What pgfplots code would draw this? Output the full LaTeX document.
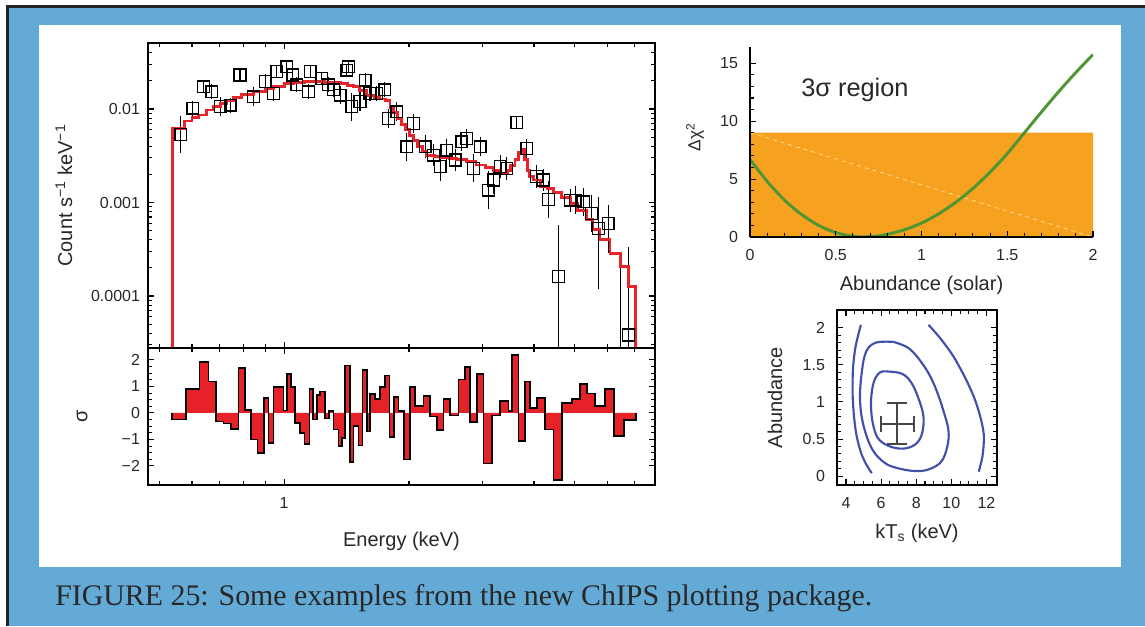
\documentclass[border=0pt]{standalone}
\usepackage{pgfplots}
\usepackage{pgfplotstable}
\pgfplotsset{compat=1.18}
\usepackage{fontspec}
\setmainfont{Liberation Sans}
\newfontfamily\capfont{Liberation Serif}
\definecolor{bgblue}{RGB}{100,170,214}
\definecolor{darkframe}{RGB}{35,35,35}
\definecolor{modelred}{RGB}{232,36,42}
\definecolor{resred}{RGB}{230,34,40}
\definecolor{boxorange}{RGB}{247,161,32}
\definecolor{curvegreen}{RGB}{78,150,52}
\definecolor{contblue}{RGB}{66,80,170}
\definecolor{crossgrey}{RGB}{70,70,70}
\definecolor{dashyellow}{RGB}{255,222,140}
\definecolor{txt}{RGB}{40,40,40}
\newcommand\tickfont{\fontsize{12}{14}\selectfont}
\newcommand\labfont{\fontsize{15}{18}\selectfont}

\pgfplotstableread{
E C ep em
0.564 0.00536 0.00314 0.00198
0.603 0.0102 0.00206 0.00171
0.639 0.0173 0.00256 0.00223
0.670 0.0153 0.00309 0.00257
0.701 0.0106 0.00275 0.00218
0.741 0.0110 0.00222 0.00185
0.783 0.0231 0.00342 0.00298
0.844 0.0135 0.00350 0.00278
0.900 0.0196 0.00396 0.00329
0.943 0.0147 0.00297 0.00247
0.960 0.0251 0.00371 0.00324
1.015 0.0283 0.00419 0.00365
1.050 0.0231 0.00342 0.00298
1.074 0.0181 0.00366 0.00304
1.145 0.0153 0.00309 0.00257
1.155 0.0251 0.00371 0.00324
1.233 0.0213 0.00315 0.00275
1.279 0.0181 0.00366 0.00304
1.315 0.0160 0.00323 0.00269
1.364 0.0141 0.00365 0.00290
1.416 0.0261 0.00386 0.00337
1.430 0.0283 0.00419 0.00365
1.456 0.0106 0.00438 0.00310
1.524 0.0120 0.00311 0.00247
1.567 0.0204 0.00412 0.00343
1.611 0.0147 0.00297 0.00247
1.672 0.0147 0.00297 0.00247
1.750 0.0160 0.00323 0.00269
1.783 0.00795 0.00206 0.00164
1.869 0.00936 0.00242 0.00193
1.976 0.00395 0.00163 0.00115
2.050 0.00703 0.00182 0.00145
2.188 0.00395 0.00126 0.00095
2.290 0.00322 0.00102 0.00078
2.376 0.00242 0.00100 0.00071
2.466 0.00364 0.00116 0.00088
2.582 0.00285 0.00091 0.00069
2.680 0.00447 0.00116 0.00092
2.755 0.00486 0.00126 0.00100
2.858 0.00232 0.00096 0.00068
2.966 0.00395 0.00102 0.00081
3.107 0.00136 0.00080 0.00050
3.193 0.00174 0.00072 0.00051
3.314 0.00242 0.00077 0.00058
3.440 0.00232 0.00074 0.00056
3.637 0.00714 0.00106 0.00092
3.843 0.00379 0.00098 0.00078
4.060 0.00189 0.00060 0.00046
4.217 0.00174 0.00055 0.00042
4.335 0.00108 0.00063 0.00040
4.580 0.000161 0.000414 0.000160
4.890 0.00106 0.00034 0.00026
5.030 0.00106 0.00044 0.00031
5.260 0.00102 0.00042 0.00030
5.510 0.000766 0.00045 0.00028
5.720 0.00053 0.00062 0.00041
6.040 0.000599 0.00034 0.00031
6.450 0.00001 0.000233 0.0000099
6.760 0.0000383 0.00030 0.0000380
}\spectab

\pgfplotstableread{
E C
0.538 0.000001
0.538 0.0062
0.577 0.00744
0.600 0.0081
0.622 0.00863
0.651 0.00976
0.675 0.0106
0.701 0.0115
0.728 0.0124
0.755 0.0132
0.790 0.0142
0.844 0.0155
0.900 0.0166
0.942 0.0175
1.000 0.0186
1.053 0.0191
1.120 0.0195
1.177 0.0196
1.250 0.0194
1.300 0.0191
1.364 0.0188
1.420 0.0180
1.469 0.0173
1.520 0.0158
1.582 0.0140
1.650 0.0132
1.700 0.0128
1.752 0.0124
1.800 0.0105
1.835 0.0092
1.880 0.0079
1.920 0.0068
1.965 0.0060
2.010 0.0052
2.050 0.0046
2.100 0.0040
2.150 0.0035
2.207 0.0032
2.300 0.00312
2.400 0.00303
2.500 0.00298
2.607 0.00290
2.750 0.00272
2.900 0.00252
3.050 0.00235
3.200 0.00218
3.300 0.00205
3.377 0.00205
3.450 0.00220
3.520 0.00250
3.600 0.00290
3.680 0.00340
3.740 0.00370
3.800 0.00290
3.850 0.00220
3.900 0.00190
3.990 0.00174
4.140 0.00150
4.300 0.00140
4.460 0.00128
4.650 0.00113
4.890 0.00098
5.100 0.00082
5.360 0.00066
5.550 0.00052
5.770 0.00040
6.100 0.000286
6.450 0.000206
6.760 0.000126
7.010 0.000001
}\modeltab

\pgfplotstableread{
E R
0.538 0
0.538 -0.25
0.5796 0.91
0.6252 1.91
0.6573 1.19
0.6857 -0.32
0.7142 -0.40
0.7436 -0.60
0.7762 1.70
0.8054 0.10
0.8329 -1.00
0.8624 -1.51
0.8950 0.57
0.9167 -1.13
0.9426 0.98
0.9963 0.09
1.0149 1.47
1.0377 0.97
1.0628 -0.38
1.0927 -0.75
1.1194 -1.16
1.1507 0.91
1.1724 -0.25
1.1987 0.69
1.2210 0.81
1.2554 -0.21
1.2835 0.07
1.3148 -0.63
1.3517 -1.26
1.3770 -0.95
1.4028 1.79
1.4421 -1.86
1.4693 -0.50
1.5106 -1.23
1.5446 1.63
1.5822 -0.70
1.6117 0.72
1.6570 0.52
1.7036 0.98
1.7515 1.41
1.7941 -0.91
1.8413 0.60
1.8860 0.07
1.9464 -1.76
2.0119 0.98
2.0687 0.25
2.1661 0.63
2.2478 -0.13
2.3326 -0.65
2.4204 0.52
2.5119 -0.10
2.6307 1.26
2.7298 1.74
2.8065 -0.35
2.9125 1.48
3.0221 -1.91
3.1652 -0.10
3.3151 0.44
3.4720 0.07
3.5366 2.20
3.6702 -1.07
3.8082 1.19
3.9153 0.19
4.0622 0.57
4.2546 -0.63
4.4565 -2.52
4.6676 0.38
4.9340 0.52
5.1674 1.09
5.3617 0.73
5.6160 0.25
5.9360 0.91
6.2406 -0.86
6.5963 -0.28
7.0389 -0.28
7.0389 0
}\restab

\pgfplotsset{
  every axis/.append style={
    scale only axis,
    /pgf/number format/assume math mode=true,
    tick label style={font=\tickfont, text=txt},
    label style={font=\labfont, text=txt},
    axis line style={line width=1pt, black},
    tick style={line width=0.8pt, black},
    major tick length=4.5pt,
    minor tick length=2.7pt,
    tick align=inside,
    xticklabel style={yshift=-6pt},
    yticklabel style={xshift=-2.5pt},
  },
}

\begin{document}
\begin{tikzpicture}
% background frame
\fill[white] (0,0) rectangle ({1145*0.75pt},{-626*0.75pt});
\fill[darkframe] ({6*0.75pt},{-5*0.75pt}) rectangle ({1145*0.75pt},{-626*0.75pt});
\fill[bgblue] ({8.5*0.75pt},{-8*0.75pt}) rectangle ({1145*0.75pt},{-626*0.75pt});
\fill[white] ({39*0.75pt},{-25*0.75pt}) rectangle ({1121*0.75pt},{-567*0.75pt});
\node[anchor=base west, font=\capfont\fontsize{22.4}{26}\selectfont, text=txt, inner sep=0pt]
  at ({55*0.75pt},{-605*0.75pt}) {FIGURE 25: Some examples from the new ChIPS plotting package.};

% ---------------- spectrum ----------------
\begin{axis}[
  at={({148*0.75pt},{-43*0.75pt})}, anchor=north west,
  width=380.25pt, height=228.75pt,
  xmode=log, ymode=log,
  xmin=0.47, xmax=7.83,
  ymin=2.78e-5, ymax=0.0508,
  xtick={1},
  minor xtick={0.5,0.6,0.7,0.8,0.9,2,3,4,5,6,7},
  xticklabels={},
  ytick={0.0001,0.001,0.01},
  yticklabels={0.0001,0.001,0.01},
  minor ytick={3e-5,4e-5,5e-5,6e-5,7e-5,8e-5,9e-5,2e-4,3e-4,4e-4,5e-4,6e-4,7e-4,8e-4,9e-4,2e-3,3e-3,4e-3,5e-3,6e-3,7e-3,8e-3,9e-3,2e-2,3e-2,4e-2,5e-2},
  ylabel={Count s\textsuperscript{−1} keV\textsuperscript{−1}},
  ylabel style={at={(axis description cs:-0.166,0.5)}, anchor=center},
]
\addplot[black, only marks, mark=square, mark size=4.4pt, mark options={line width=1pt},
  error bars/.cd, y dir=both, y explicit, error mark=none,
  error bar style={line width=0.8pt, black}]
  table[x=E, y=C, y error plus=ep, y error minus=em] {\spectab};
\addplot[const plot mark left, modelred, line width=2.2pt] table[x=E, y=C] {\modeltab};
\end{axis}

% ---------------- residuals ----------------
\begin{axis}[
  at={({148*0.75pt},{-348*0.75pt})}, anchor=north west,
  width=380.25pt, height=102.75pt,
  xmode=log,
  xmin=0.47, xmax=7.83,
  xtick={1},
  minor xtick={0.5,0.6,0.7,0.8,0.9,2,3,4,5,6,7},
  xticklabels={1},
  ymin=-2.72, ymax=2.45,
  ytick={-2,-1,0,1,2},
  yticklabels={−2,−1,0,1,2},
  minor y tick num=3,
  ylabel={σ},
  ylabel style={at={(axis description cs:-0.130,0.5)}, anchor=center},
  xlabel={Energy (keV)},
  xlabel style={at={(axis description cs:0.5,-0.41)}, anchor=center},
]
\addplot[const plot mark left, fill=resred, draw=none] table[x=E, y=R] {\restab} \closedcycle;
\addplot[const plot mark left, black, line width=1.3pt] table[x=E, y=R] {\restab};
\end{axis}

% ---------------- delta chi^2 ----------------
\begin{axis}[
  at={({750*0.75pt},{-47*0.75pt})}, anchor=north west,
  width=257.25pt, height=142.5pt,
  axis x line*=bottom, axis y line*=left,
  axis on top,
  xmin=0, xmax=2, ymin=0, ymax=16.4,
  xtick={0,0.5,1,1.5,2}, xticklabels={0,0.5,1,1.5,2},
  ytick={0,5,10,15},
  minor x tick num=4, minor y tick num=4,
  xlabel={Abundance (solar)},
  xlabel style={at={(axis description cs:0.5,-0.253)}, anchor=center},
  ylabel={Δχ\textsuperscript{2}},
  ylabel style={at={(axis description cs:-0.16,0.526)}, anchor=center, font=\fontsize{13}{15}\selectfont},
  yticklabel style={xshift=-3pt},
]
\addplot[fill=boxorange, draw=none] coordinates {(0,0) (2,0) (2,9) (0,9) (0,0)};
\addplot[dashyellow, dashed, line width=0.6pt] coordinates {(0,9) (2,0)};
\addplot[curvegreen, line width=2.2pt, smooth] coordinates {
 (0,6.7) (0.1,4.8) (0.2,3.2) (0.3,1.95) (0.4,1.0) (0.5,0.38) (0.6,0.05) (0.65,0)
 (0.75,0.1) (0.8,0.23) (0.9,0.62) (1.0,1.2) (1.1,2.0) (1.2,3.0) (1.3,4.2)
 (1.4,5.6) (1.5,7.2) (1.6,9.0) (1.7,10.8) (1.8,12.55) (1.9,14.2) (2.0,15.75)};
\node[font=\fontsize{19}{22}\selectfont, text=txt] at (axis cs:0.612,12.67) {3σ region};
\end{axis}

% ---------------- contours ----------------
\begin{axis}[
  at={({837*0.75pt},{-310*0.75pt})}, anchor=north west,
  width=120pt, height=131.25pt,
  xmin=3.49, xmax=12.6, ymin=-0.12, ymax=2.24,
  xtick={4,6,8,10,12}, ytick={0,0.5,1,1.5,2},
  yticklabels={0,0.5,1,1.5,2},
  minor x tick num=3, minor y tick num=4,
  xlabel={kT\textsubscript{s} (keV)},
  xlabel style={at={(axis description cs:0.5,-0.274)}, anchor=center},
  ylabel={Abundance},
  ylabel style={at={(axis description cs:-0.3875,0.5)}, anchor=center},
  yticklabel style={xshift=-3pt},
]
\addplot[contblue, line width=1.6pt, smooth, tension=0.6] coordinates {
 (6.42,1.41) (7.2,1.38) (7.75,1.25) (8.2,1.0) (8.42,0.78) (8.3,0.55) (7.9,0.42)
 (7.2,0.37) (6.4,0.41) (5.8,0.52) (5.5,0.75) (5.43,1.03) (5.6,1.28) (5.95,1.40) (6.42,1.41)};
\addplot[contblue, line width=1.6pt, smooth, tension=0.6] coordinates {
 (6.7,1.81) (7.6,1.72) (8.4,1.50) (8.99,1.25) (9.55,0.88) (9.85,0.55) (9.5,0.22)
 (8.7,0.09) (7.85,0.07) (6.9,0.11) (6.2,0.18) (5.5,0.36) (5.0,0.68) (4.8,1.03)
 (4.9,1.4) (5.15,1.68) (5.7,1.80) (6.7,1.81)};
\addplot[contblue, line width=1.6pt, smooth] coordinates {
 (4.85,2.04) (4.55,1.75) (4.40,1.45) (4.38,1.1) (4.46,0.80) (4.6,0.55) (4.85,0.32)
 (5.15,0.16) (5.47,0.04)};
\addplot[contblue, line width=1.6pt, smooth] coordinates {
 (8.70,2.04) (9.4,1.85) (10.13,1.61) (10.8,1.32) (11.28,1.07) (11.65,0.80)
 (11.85,0.55) (11.78,0.28) (11.56,0.06)};
\addplot[crossgrey, line width=1.5pt] coordinates {(5.98,0.70) (7.89,0.70)};
\addplot[crossgrey, line width=1.5pt] coordinates {(6.9,0.43) (6.9,0.98)};
\addplot[crossgrey, line width=1.5pt] coordinates {(5.98,0.59) (5.98,0.81)};
\addplot[crossgrey, line width=1.5pt] coordinates {(7.89,0.59) (7.89,0.81)};
\addplot[crossgrey, line width=1.5pt] coordinates {(6.33,0.43) (7.47,0.43)};
\addplot[crossgrey, line width=1.5pt] coordinates {(6.33,0.98) (7.47,0.98)};
\end{axis}
\end{tikzpicture}
\end{document}
